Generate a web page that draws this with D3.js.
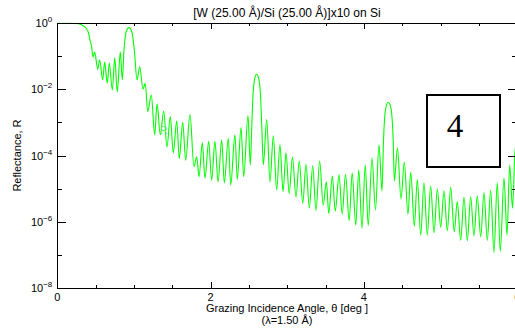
<!DOCTYPE html>
<meta charset="utf-8" />
<style>
  body { margin: 0; background: #fff; }
  text { font-family: "Liberation Sans", Arial, sans-serif; fill: #000; }
  .axis path, .axis line { stroke: #000; stroke-width: 1px; shape-rendering: crispEdges; }
  .curve { fill: none; stroke: #00ff00; stroke-width: 1.1px; }
</style>
<body>
<script src="https://d3js.org/d3.v7.min.js"></script>
<script>
  // grazing angle (deg) and reflectance
  var theta = [
    0, 0.166, 0.257, 0.322, 0.374, 0.407, 0.427, 0.446, 0.466, 0.488,
    0.527, 0.553, 0.592, 0.618, 0.652, 0.678, 0.718, 0.749, 0.783, 0.822,
    0.848, 0.870, 0.890, 0.909, 0.935, 0.961, 0.981, 1.005, 1.040,
    1.075, 1.118, 1.148, 1.179, 1.226, 1.271, 1.301, 1.344, 1.388, 1.431,
    1.474, 1.513, 1.558, 1.592, 1.636, 1.675, 1.731, 1.783, 1.819, 1.849,
    1.892, 1.927, 1.975, 2.014, 2.057, 2.097, 2.145, 2.179, 2.231, 2.262,
    2.318, 2.348, 2.397, 2.432, 2.488, 2.518,
    2.537, 2.553, 2.573, 2.601, 2.631, 2.651, 2.668, 2.688,
    2.732, 2.775, 2.818, 2.862, 2.905, 2.945, 2.984, 3.025, 3.068, 3.114,
    3.157, 3.202, 3.245, 3.288, 3.332, 3.375, 3.423, 3.469, 3.510, 3.542,
    3.588, 3.627, 3.675, 3.717, 3.760, 3.808, 3.847, 3.894, 3.933, 3.975,
    4.018, 4.056, 4.106, 4.151, 4.197, 4.236,
    4.256, 4.275, 4.295, 4.318, 4.343, 4.363, 4.382, 4.397,
    4.438, 4.484, 4.527, 4.575, 4.611, 4.658, 4.697, 4.741, 4.784, 4.827,
    4.871, 4.915, 4.958, 5.002, 5.045, 5.088, 5.132, 5.179, 5.218, 5.263,
    5.306, 5.349, 5.393, 5.436, 5.479, 5.524, 5.567, 5.610, 5.654, 5.697,
    5.740, 5.779, 5.828, 5.867, 5.902, 5.939, 5.971, 6.0
  ];
  var refl = [
    1.0, 0.98, 0.95, 0.85, 0.69, 0.49, 0.30, 0.20, 0.093, 0.13,
    0.040, 0.075, 0.019, 0.065, 0.015, 0.061, 0.0094, 0.087, 0.0082, 0.13,
    0.019, 0.15, 0.43, 0.62, 0.71, 0.62, 0.43, 0.15, 0.019,
    0.047, 0.010, 0.015, 0.0021, 0.0066, 4.2e-4, 0.0036, 4.2e-4, 0.0022, 1.8e-4,
    0.0015, 1.2e-4, 0.0011, 8.1e-5, 0.0010, 7.2e-5, 0.0017, 4.6e-5, 9.2e-5, 2.3e-5,
    2.4e-4, 2.1e-5, 2.7e-4, 1.8e-5, 2.7e-4, 1.6e-5, 2.9e-4, 1.5e-5, 3.3e-4, 1.3e-5,
    4.2e-4, 1.9e-5, 6.9e-4, 2.3e-5, 0.0016, 5.2e-5,
    7.2e-4, 0.0066, 0.019, 0.028, 0.019, 0.0066, 7.2e-4, 5.2e-5,
    0.0012, 1.6e-5, 3.9e-4, 9.1e-6, 2.1e-4, 8.1e-6, 1.2e-4, 7.2e-6, 9.0e-5, 5.6e-6,
    6.8e-5, 3.6e-6, 5.4e-5, 2.6e-6, 4.9e-5, 2.2e-6, 6.8e-5, 3.2e-6, 1.6e-5, 1.8e-6,
    2.4e-5, 2.1e-6, 2.6e-5, 1.7e-6, 2.7e-5, 1.1e-6, 3.0e-5, 8.1e-7, 3.7e-5, 6.4e-7,
    5.2e-5, 7.8e-7, 8.4e-5, 2.3e-6, 2.1e-4, 8.5e-6,
    2.9e-4, 0.0018, 0.0033, 0.0040, 0.0033, 0.0018, 2.9e-4, 1.7e-5,
    1.7e-4, 4.9e-6, 6.3e-5, 1.7e-6, 3.1e-5, 7.5e-7, 1.9e-5, 4.0e-7, 1.5e-5, 4.0e-7,
    1.2e-5, 4.7e-7, 9.8e-6, 6.9e-7, 8.7e-6, 5.4e-7, 1.1e-5, 5.0e-7, 4.1e-6, 2.8e-7,
    5.5e-6, 2.7e-7, 5.7e-6, 3.8e-7, 6.0e-6, 3.6e-7, 7.6e-6, 2.8e-7, 9.1e-6, 1.2e-7,
    1.5e-5, 1.3e-7, 2.1e-5, 4.0e-7, 5.2e-5, 2.6e-6, 1.3e-4, 3.0e-4
  ];

  var xMajor = [0, 2, 4, 6];
  var xMinor = [0.5, 1, 1.5, 2.5, 3, 3.5, 4.5, 5, 5.5];
  var yMajorExp = [0, -2, -4, -6, -8];
  var yMinorExp = [-1, -3, -5, -7];

  var titleText = '[W (25.00 Å)/Si (25.00 Å)]x10 on Si';
  var xTitle = 'Grazing Incidence Angle, θ [deg ]';
  var xSub = '(λ=1.50 Å)';
  var yTitle = 'Reflectance, R';
  var boxLabel = '4';

  // plot frame (pixels)
  var pLeft = 57.3, pRight = 517.2, pTop = 22.7, pBottom = 288.3;

  var svg = d3.select('body').append('svg')
    .attr('width', 515)
    .attr('height', 331);

  var x = d3.scaleLinear().domain([0, 6]).range([pLeft, pRight]);
  var y = d3.scaleLog().domain([1e-8, 1]).range([pBottom, pTop]);

  // curve
  svg.append('clipPath').attr('id', 'clip')
    .append('rect')
    .attr('x', pLeft).attr('y', pTop)
    .attr('width', pRight - pLeft).attr('height', pBottom - pTop);

  var pts = theta.map(function(t, i) { return [t, refl[i]]; });
  var line = d3.line()
    .x(function(d) { return x(d[0]); })
    .y(function(d) { return y(d[1]); })
    .curve(d3.curveMonotoneX);

  svg.append('path')
    .datum(pts)
    .attr('class', 'curve')
    .attr('clip-path', 'url(#clip)')
    .attr('d', line);

  // stray label inside plot
  svg.append('text')
    .attr('x', x(1.39)).attr('y', y(Math.pow(10, -3.3)) + 2)
    .attr('text-anchor', 'middle')
    .style('font-size', '10px')
    .style('fill', '#66ee66')
    .text('R');

  // axes: ticks point inward on all four sides
  var yMaj = yMajorExp.map(function(e) { return Math.pow(10, e); });
  var yMin = yMinorExp.map(function(e) { return Math.pow(10, e); });

  function addAxis(axis, tx, ty) {
    svg.append('g').attr('class', 'axis')
      .attr('transform', 'translate(' + tx + ',' + ty + ')')
      .call(axis)
      .call(function(g) { g.selectAll('text').remove(); });
  }

  addAxis(d3.axisBottom(x).tickValues(xMajor).tickSize(-6).tickSizeOuter(0).tickFormat(''), 0, pBottom);
  addAxis(d3.axisBottom(x).tickValues(xMinor).tickSize(-3).tickSizeOuter(0).tickFormat(''), 0, pBottom);
  addAxis(d3.axisTop(x).tickValues(xMajor).tickSize(-6).tickSizeOuter(0).tickFormat(''), 0, pTop);
  addAxis(d3.axisTop(x).tickValues(xMinor).tickSize(-3).tickSizeOuter(0).tickFormat(''), 0, pTop);
  addAxis(d3.axisLeft(y).tickValues(yMaj).tickSize(-9).tickSizeOuter(0).tickFormat(''), pLeft, 0);
  addAxis(d3.axisLeft(y).tickValues(yMin).tickSize(-5).tickSizeOuter(0).tickFormat(''), pLeft, 0);
  addAxis(d3.axisRight(y).tickValues(yMaj).tickSize(-9).tickSizeOuter(0).tickFormat(''), pRight, 0);
  addAxis(d3.axisRight(y).tickValues(yMin).tickSize(-5).tickSizeOuter(0).tickFormat(''), pRight, 0);

  // x tick labels
  svg.selectAll('.xlab').data(xMajor).enter().append('text')
    .attr('class', 'xlab')
    .attr('x', function(d) { return x(d); })
    .attr('y', pBottom + 13)
    .attr('text-anchor', 'middle')
    .style('font-size', '11px')
    .text(function(d) { return d; });

  // y tick labels 10^n
  var ylab = svg.selectAll('.ylab').data(yMajorExp).enter().append('text')
    .attr('class', 'ylab')
    .attr('x', pLeft - 5)
    .attr('y', function(d) { return y(Math.pow(10, d)) + 4; })
    .attr('text-anchor', 'end')
    .style('font-size', '11px');
  ylab.append('tspan').text('10');
  ylab.append('tspan')
    .attr('dy', -5)
    .style('font-size', '8px')
    .text(function(d) { return d === 0 ? '0' : '\u2212' + (-d); });

  // titles
  svg.append('text')
    .attr('x', 287).attr('y', 17)
    .attr('text-anchor', 'middle')
    .style('font-size', '12px')
    .text(titleText);

  svg.append('text')
    .attr('x', 287).attr('y', 312)
    .attr('text-anchor', 'middle')
    .style('font-size', '11px')
    .text(xTitle);

  svg.append('text')
    .attr('x', 287).attr('y', 324)
    .attr('text-anchor', 'middle')
    .style('font-size', '11px')
    .text(xSub);

  svg.append('text')
    .attr('transform', 'translate(21,' + ((pTop + pBottom) / 2) + ') rotate(-90)')
    .attr('text-anchor', 'middle')
    .style('font-size', '11px')
    .text(yTitle);

  // boxed panel number
  svg.append('rect')
    .attr('x', 427).attr('y', 95)
    .attr('width', 73).attr('height', 72)
    .attr('fill', '#fff')
    .attr('stroke', '#000')
    .attr('stroke-width', 2);

  svg.append('text')
    .attr('x', 455).attr('y', 137)
    .attr('text-anchor', 'middle')
    .style('font-family', '"Liberation Serif", "Times New Roman", serif')
    .style('font-size', '33px')
    .text(boxLabel);
</script>
</body>
